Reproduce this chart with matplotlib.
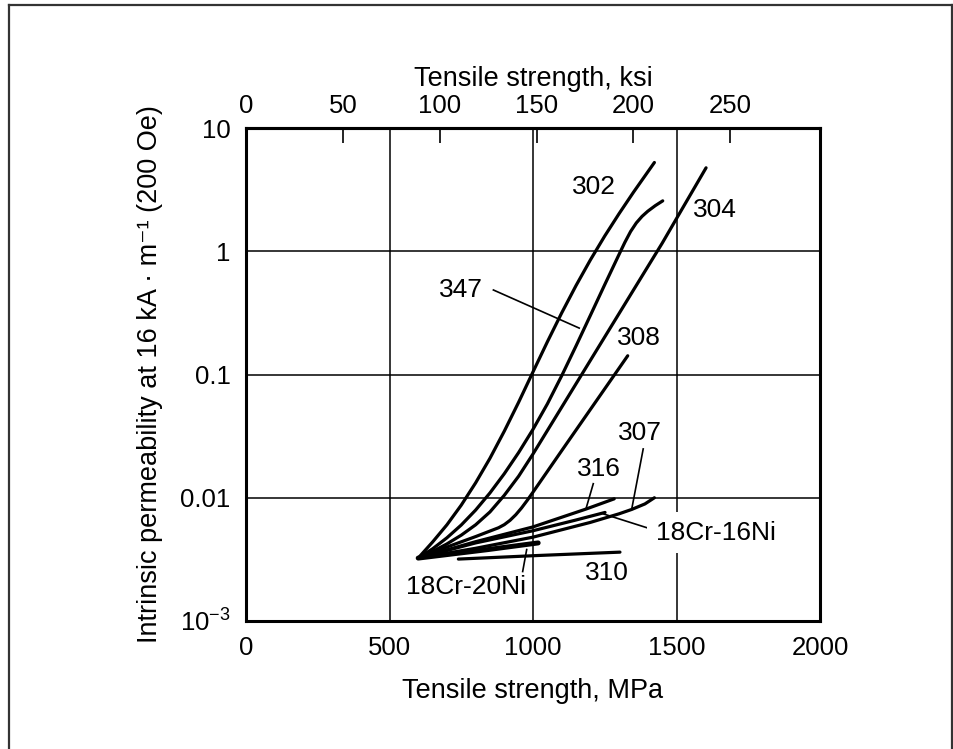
import matplotlib
matplotlib.use("Agg")
import matplotlib.pyplot as plt
from matplotlib.lines import Line2D

plt.rcParams['font.family'] = ['Liberation Sans', 'DejaVu Sans']
plt.rcParams['mathtext.fontset'] = 'custom'
plt.rcParams['mathtext.rm'] = 'Liberation Sans'
plt.rcParams['mathtext.it'] = 'Liberation Sans:italic'

# ---- data (tensile strength MPa, intrinsic permeability) ----
mpa_302 = [600, 650, 700, 750, 800, 850, 900, 950, 1000, 1050, 1100, 1150, 1200, 1250, 1300, 1350, 1423]
perm_302 = [0.00324, 0.00437, 0.00603, 0.00871, 0.0132, 0.0209, 0.0347, 0.0596, 0.105, 0.184,
            0.316, 0.527, 0.851, 1.33, 2.02, 3.01, 5.25]

mpa_347 = [600, 650, 700, 750, 800, 850, 900, 950, 1000, 1050, 1100, 1150, 1200, 1250, 1300,
           1320, 1340, 1360, 1380, 1400, 1426, 1452]
perm_347 = [0.00324, 0.00385, 0.00473, 0.00601, 0.00794, 0.01094, 0.01567, 0.02328, 0.03589,
            0.05768, 0.0977, 0.1706, 0.302, 0.536, 0.944, 1.18, 1.445, 1.698, 1.919, 2.113,
            2.344, 2.564]

mpa_304 = [600, 650, 700, 750, 800, 850, 900, 950, 1000, 1100, 1200, 1300, 1400, 1450, 1500, 1550, 1603]
perm_304 = [0.00324, 0.00366, 0.00422, 0.00497, 0.00603, 0.00767, 0.01047, 0.01496, 0.02265,
            0.0543, 0.1303, 0.3126, 0.75, 1.161, 1.841, 2.917, 4.753]

mpa_308 = [600, 700, 800, 880, 900, 920, 940, 960, 980, 1000, 1100, 1222, 1330]
perm_308 = [0.00324, 0.00398, 0.00484, 0.00571, 0.00605, 0.00656, 0.00728, 0.00826, 0.00953,
            0.0111, 0.0241, 0.0617, 0.1419]

mpa_307 = [600, 800, 1000, 1200, 1300, 1344, 1390, 1423]
perm_307 = [0.00324, 0.00389, 0.00479, 0.00631, 0.00741, 0.00804, 0.00891, 0.0100]

mpa_316 = [600, 800, 1000, 1185, 1283]
perm_316 = [0.00324, 0.0044, 0.0058, 0.0081, 0.0098]

mpa_18cr16ni = [600, 800, 1000, 1150, 1251]
perm_18cr16ni = [0.00324, 0.0043, 0.0054, 0.0066, 0.0076]

mpa_18cr20ni = [600, 844, 1018]
perm_18cr20ni = [0.00324, 0.0038, 0.0043]

mpa_310 = [740, 1018, 1303]
perm_310 = [0.00318, 0.0034, 0.00362]

x_ticks = [0, 500, 1000, 1500, 2000]
y_ticks = [1e-3, 1e-2, 1e-1, 1, 10]
y_tick_labels = ['10$^{-3}$', '0.01', '0.1', '1', '10']
ksi_ticks = [0, 50, 100, 150, 200, 250]
MPA_PER_KSI = 6.75   # spacing of the top scale as drawn

curve_labels = [
    ('302', 1213, 3.3),
    ('304', 1634, 2.16),
    ('347', 748, 0.485),
    ('308', 1370, 0.197),
    ('307', 1373, 0.0334),
    ('316', 1231, 0.017),
    ('310', 1257, 0.00245),
    ('18Cr-20Ni', 767, 0.0019),
]
leaders = [
    ((862, 0.485), (1161, 0.238)),
    ((1210, 0.013), (1185, 0.0082)),
    ((1384, 0.0249), (1344, 0.0081)),
    ((1245, 0.0074), (1419, 0.0055)),
    ((978, 0.0038), (964, 0.00252)),
]

fig = plt.figure(figsize=(9.54, 7.49), dpi=100)
ax = fig.add_axes([246/954, 1-621/749, (820-246)/954, (621-128)/749])
ax.set_xlim(0, 2000)
ax.set_yscale('log')
ax.set_ylim(1e-3, 10)

FS_TICK = 18.5
FS_LAB = 19
FS_TITLE = 19.5
lw = 2.3
for xs, ys in [(mpa_302, perm_302), (mpa_347, perm_347), (mpa_304, perm_304),
               (mpa_308, perm_308), (mpa_307, perm_307), (mpa_316, perm_316),
               (mpa_18cr16ni, perm_18cr16ni), (mpa_310, perm_310)]:
    ax.plot(xs, ys, color='black', lw=lw, solid_capstyle='round', solid_joinstyle='round', zorder=3)
ax.plot(mpa_18cr20ni, perm_18cr20ni, color='black', lw=3.6, solid_capstyle='round', zorder=3)

for (x0, y0), (x1, y1) in leaders:
    ax.plot([x0, x1], [y0, y1], color='black', lw=1.2, zorder=3)

for t, x, y in curve_labels:
    ax.text(x, y, t, fontsize=FS_LAB, ha='center', va='center', zorder=4)
ax.text(1427, 0.00519, '18Cr-16Ni', fontsize=FS_LAB, ha='left', va='center', zorder=4,
        bbox=dict(facecolor='white', edgecolor='none', pad=6))

ax.set_xticks(x_ticks)
ax.set_yticks(y_ticks)
ax.set_yticklabels(y_tick_labels)
ax.minorticks_off()
ax.tick_params(axis='both', length=0, labelsize=FS_TICK, pad=11)
ax.grid(True, color='black', lw=1.1, zorder=1)
for s in ax.spines.values():
    s.set_linewidth(2.2)

sec = ax.secondary_xaxis('top', functions=(lambda v: v / MPA_PER_KSI, lambda v: v * MPA_PER_KSI))
sec.set_xticks(ksi_ticks)
sec.tick_params(direction='in', length=11, width=1.2, labelsize=FS_TICK, pad=7)
sec.minorticks_off()
sec.spines['top'].set_linewidth(2.2)
sec.set_xlabel('Tensile strength, ksi', fontsize=FS_TITLE, labelpad=6)

ax.set_xlabel('Tensile strength, MPa', fontsize=FS_TITLE, labelpad=13)
ax.set_ylabel('Intrinsic permeability at 16 kA · m⁻¹ (200 Oe)', fontsize=FS_TITLE, labelpad=12)

# outer frame
fc = '#333333'
fig.add_artist(Line2D([9/954, 9/954], [0, 1-5/749], color=fc, lw=1.6, transform=fig.transFigure))
fig.add_artist(Line2D([9/954, 952/954], [1-5/749, 1-5/749], color=fc, lw=1.6, transform=fig.transFigure))
fig.add_artist(Line2D([952/954, 952/954], [0, 1-5/749], color=fc, lw=1.6, transform=fig.transFigure))

fig.savefig('out.png', dpi=100)
